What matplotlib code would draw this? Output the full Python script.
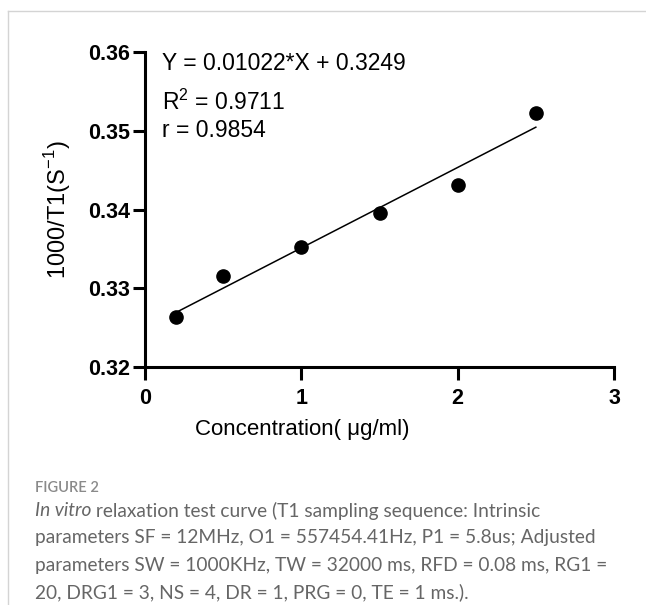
import matplotlib
matplotlib.use("Agg")
import numpy as np
from matplotlib import pyplot as plt
from matplotlib.lines import Line2D

# data
conc = [0.2, 0.5, 1.0, 1.5, 2.0, 2.5]
inv_t1 = [0.3264, 0.3316, 0.3352, 0.3395, 0.3431, 0.3523]
slope = 0.01022
intercept = 0.3249
r_squared = 0.9711
r_value = 0.9854
x_ticks = [0, 1, 2, 3]
y_ticks = [0.32, 0.33, 0.34, 0.35, 0.36]

caption_title = "FIGURE 2"
caption_italic = "In vitro"
caption_lines = [
    " relaxation test curve (T1 sampling sequence: Intrinsic",
    "parameters SF = 12MHz, O1 = 557454.41Hz, P1 = 5.8us; Adjusted",
    "parameters SW = 1000KHz, TW = 32000 ms, RFD = 0.08 ms, RG1 =",
    "20, DRG1 = 3, NS = 4, DR = 1, PRG = 0, TE = 1 ms.).",
]

W, H = 646, 605
plt.rcParams['font.family'] = ['Liberation Sans', 'DejaVu Sans']
plt.rcParams['mathtext.fontset'] = 'custom'
plt.rcParams['mathtext.rm'] = 'Liberation Sans'

fig = plt.figure(figsize=(W / 100, H / 100), dpi=100)
ax = fig.add_axes([145 / W, 1 - 367 / H, 469 / W, 315 / H])

# points and fitted line
ax.plot(conc, inv_t1, 'o', color='black', ms=9.5, clip_on=False, zorder=3)
xs = np.array([min(conc), max(conc)])
ax.plot(xs, slope * xs + intercept, color='black', lw=1.1)

ax.set_xlim(0, 3)
ax.set_ylim(0.32, 0.36)
ax.set_xticks(x_ticks)
ax.set_yticks(y_ticks)
ax.set_yticklabels(["%.2f" % v for v in y_ticks])
for sp in ['top', 'right']:
    ax.spines[sp].set_visible(False)
for sp in ['left', 'bottom']:
    ax.spines[sp].set_linewidth(2.2)
ax.tick_params(width=2.2, length=9, labelsize=15.5)
ax.tick_params(axis='x', pad=6)
ax.tick_params(axis='y', pad=2)
for lab in ax.get_xticklabels() + ax.get_yticklabels():
    lab.set_fontweight('bold')

ax.text(0.336, -0.2, "Concentration( μg/ml)", transform=ax.transAxes,
        ha='center', va='center', fontsize=16)
ax.set_ylabel("1000/T1(S$^{-1}$)", fontsize=17)
ax.yaxis.set_label_coords(-0.154, 0.5)

# equation text
ax.text(0.036, 0.965, "Y = %.5f*X + %.4f" % (slope, intercept),
        transform=ax.transAxes, fontsize=16.5, va='center')
ax.text(0.036, 0.84, "R$^2$ = %.4f" % r_squared,
        transform=ax.transAxes, fontsize=16.5, va='center')
ax.text(0.036, 0.75, "r = %.4f" % r_value,
        transform=ax.transAxes, fontsize=16.5, va='center')

# page frame
fig.add_artist(Line2D([8 / W, 1], [1 - 11 / H, 1 - 11 / H], transform=fig.transFigure,
                      color='#d4d4d4', lw=1))
fig.add_artist(Line2D([8 / W, 8 / W], [0, 1 - 11 / H], transform=fig.transFigure,
                      color='#d4d4d4', lw=1))

# caption
cap_x = 35 / W
cap_size = 13.8
fig.text(cap_x, 1 - 488 / H, caption_title, fontsize=10.5, color='#8a8a8a',
         family='Lato', weight='semibold', va='center')
t0 = fig.text(cap_x, 1 - 511 / H, caption_italic, fontsize=cap_size, color='#666666',
              family='Lato', style='italic', va='center')
renderer = fig.canvas.get_renderer()
bb = t0.get_window_extent(renderer=renderer)
fig.text(bb.x1 / W, 1 - 511 / H, caption_lines[0], fontsize=cap_size, color='#666666',
         family='Lato', va='center')
for i, line in enumerate(caption_lines[1:]):
    fig.text(cap_x, 1 - (538 + 27 * i) / H, line, fontsize=cap_size, color='#666666',
             family='Lato', va='center')

fig.savefig("out.png", dpi=100)
